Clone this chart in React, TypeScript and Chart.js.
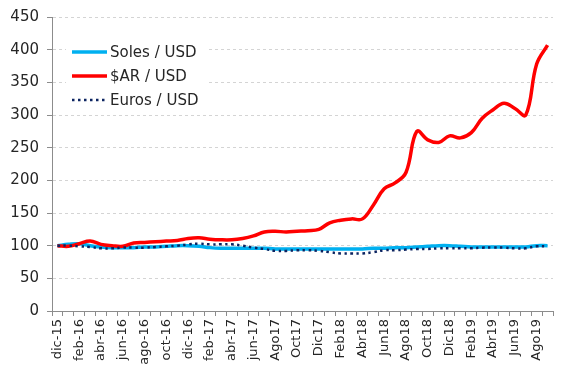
import React, { useEffect, useRef } from "react";
import { Chart, registerables } from "chart.js";

Chart.register(...registerables);

const months = [
  "dic-15", "ene-16", "feb-16", "mar-16", "abr-16", "may-16", "jun-16", "jul-16", "ago-16", "sep-16",
  "oct-16", "nov-16", "dic-16", "ene-17", "feb-17", "mar-17", "abr-17", "may-17", "jun-17", "Jul17",
  "Ago17", "Sep17", "Oct17", "Nov17", "Dic17", "Ene18", "Feb18", "Mar18", "Abr18", "May18",
  "Jun18", "Jul18", "Ago18", "Sep18", "Oct18", "Nov18", "Dic18", "Ene19", "Feb19", "Mar19",
  "Abr19", "May19", "Jun19", "Jul19", "Ago19", "Sep19",
];

const solesUsd = [
  100, 102, 103, 100, 98, 97, 97, 97, 98, 98,
  99, 100, 100, 99, 97, 96, 96, 96, 96, 96,
  95, 95, 95, 95, 95, 95, 95, 95, 95, 96,
  96, 97, 97, 98, 99, 100, 100, 99, 98, 98,
  98, 98, 98, 98, 100, 100,
];

const arUsd = [
  100, 99, 103, 107, 102, 100, 99, 104, 105, 106,
  107, 108, 111, 112, 110, 109, 109, 111, 115, 121,
  122, 121, 122, 123, 125, 135, 139, 141, 141, 162,
  187, 196, 212, 275, 262, 258, 268, 265, 273, 295,
  308, 318, 310, 300, 378, 407,
];

const eurosUsd = [
  100, 100, 99, 98, 96, 96, 97, 97, 97, 98,
  99, 100, 102, 103, 102, 102, 102, 100, 97, 95,
  92, 92, 93, 93, 92, 90, 88, 88, 88, 90,
  93, 93, 94, 95, 95, 96, 96, 96, 96, 97,
  97, 97, 96, 96, 99, 99,
];

const seriesLabels = ["Soles / USD", "$AR / USD", "Euros / USD"];

const TEXT = "#262626";
const AXIS = "#8c8c8c";
const FONT = "'DejaVu Sans', sans-serif";

const legendPlugin = {
  id: "customLegend",
  afterDraw(chart: any) {
    const ctx = chart.ctx;
    const left = chart.chartArea.left;
    const top = chart.chartArea.top;
    ctx.save();
    ctx.fillStyle = "#ffffff";
    ctx.fillRect(left + 14, top + 23, 142, 70);
    chart.data.datasets.forEach((ds: any, i: number) => {
      const y = top + 35 + i * 24;
      ctx.beginPath();
      ctx.strokeStyle = ds.borderColor;
      ctx.lineWidth = ds.borderWidth;
      ctx.setLineDash(ds.borderDash || []);
      ctx.lineCap = "butt";
      ctx.moveTo(left + 20, y);
      ctx.lineTo(left + 55, y);
      ctx.stroke();
      ctx.setLineDash([]);
      ctx.fillStyle = TEXT;
      ctx.font = `15px ${FONT}`;
      ctx.textBaseline = "middle";
      ctx.textAlign = "left";
      ctx.fillText(ds.label, left + 58, y + 1);
    });
    ctx.restore();
  },
};

export default function App() {
  const ref = useRef<HTMLCanvasElement | null>(null);

  useEffect(() => {
    if (!ref.current) return;
    const chart = new Chart(ref.current, {
      type: "line",
      data: {
        labels: months,
        datasets: [
          {
            label: seriesLabels[0],
            data: solesUsd,
            borderColor: "#00B0F0",
            backgroundColor: "#00B0F0",
            borderWidth: 3.5,
            pointRadius: 0,
            tension: 0.4,
            order: 2,
          },
          {
            label: seriesLabels[1],
            data: arUsd,
            borderColor: "#FF0000",
            backgroundColor: "#FF0000",
            borderWidth: 3.5,
            pointRadius: 0,
            tension: 0.4,
            order: 1,
          },
          {
            label: seriesLabels[2],
            data: eurosUsd,
            borderColor: "#0C2461",
            backgroundColor: "#0C2461",
            borderWidth: 2.5,
            borderDash: [2.5, 3.5],
            pointRadius: 0,
            tension: 0.4,
            order: 0,
          },
        ],
      },
      options: {
        animation: false,
        responsive: true,
        maintainAspectRatio: false,
        layout: { padding: { top: 14, right: 14, left: 0, bottom: 0 } },
        plugins: {
          legend: { display: false },
          tooltip: { enabled: false },
        },
        scales: {
          x: {
            offset: true,
            grid: {
              drawOnChartArea: false,
              drawTicks: true,
              tickLength: 5,
              tickColor: AXIS,
              offset: true,
            },
            border: { color: AXIS, width: 1 },
            ticks: {
              autoSkip: false,
              minRotation: 90,
              maxRotation: 90,
              padding: 3,
              color: TEXT,
              font: { family: FONT, size: 13 },
              callback: (_v: any, i: number) => (i % 2 === 0 ? months[i] : ""),
            },
            afterFit: (s: any) => {
              s.height = 67;
            },
          },
          y: {
            min: 0,
            max: 450,
            grid: {
              color: (c: any) => (c.index === 0 ? "rgba(0,0,0,0)" : "#d4d4d4"),
              tickColor: AXIS,
              tickLength: 5,
              drawTicks: true,
            },
            border: { color: AXIS, width: 1, dash: [3, 3] },
            ticks: {
              stepSize: 50,
              padding: 8,
              color: TEXT,
              font: { family: FONT, size: 15 },
            },
            afterFit: (s: any) => {
              s.width = 52;
            },
          },
        },
      },
      plugins: [legendPlugin],
    });
    return () => chart.destroy();
  }, []);

  return (
    <div style={{ position: "fixed", left: 0, top: 0, width: 567, height: 378, background: "#fff" }}>
      <canvas ref={ref} />
    </div>
  );
}
